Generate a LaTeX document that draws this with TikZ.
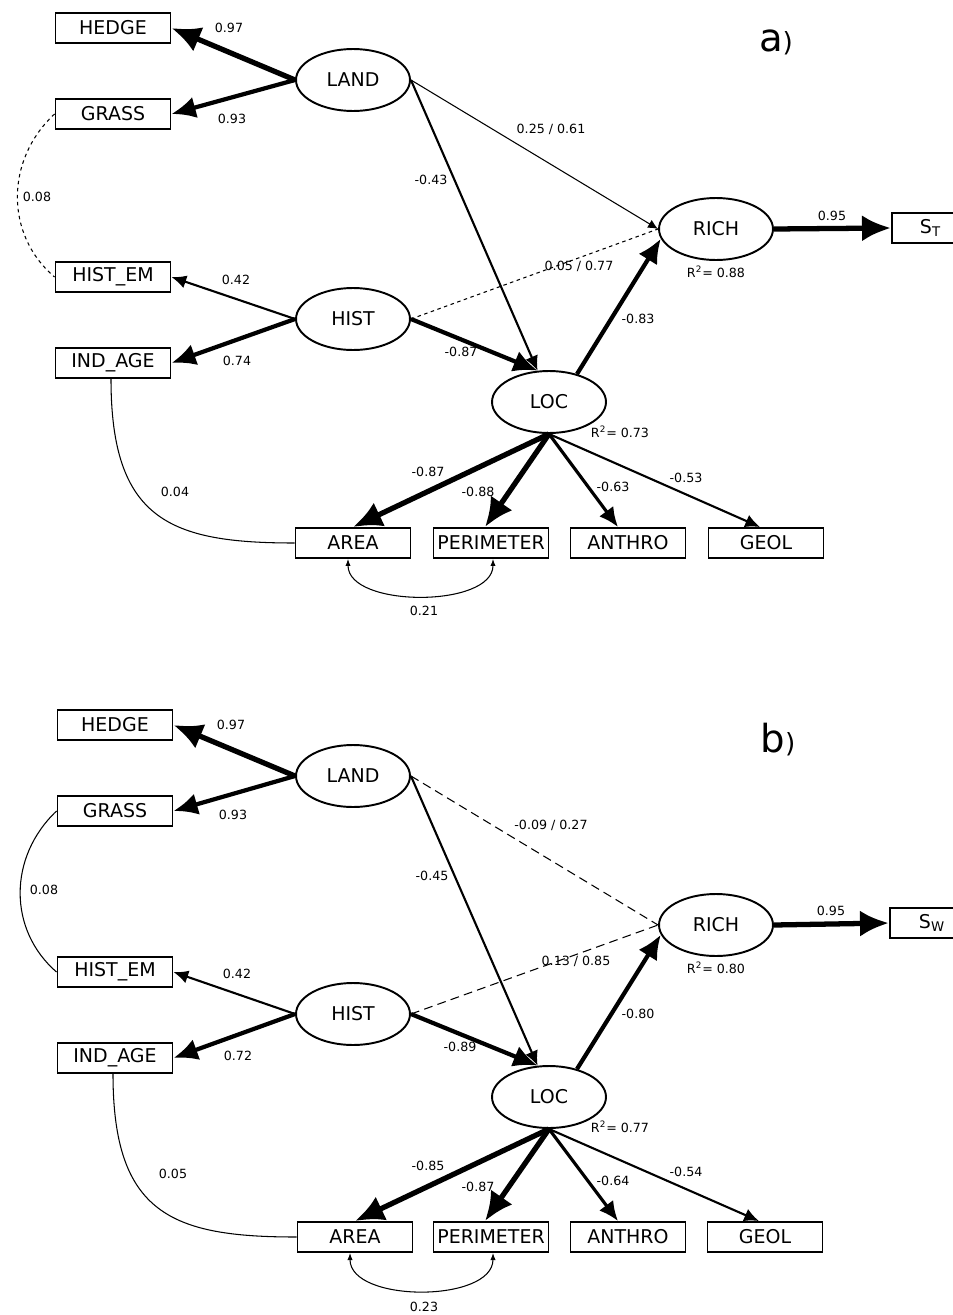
\documentclass[tikz,border=0pt]{standalone}
\usepackage{fontspec}
\setmainfont{DejaVu Sans}
\usetikzlibrary{shapes.geometric,arrows.meta}

\tikzset{
    box/.style={draw, line width=1.1pt, minimum width=2.3cm, minimum height=0.6cm, inner sep=0pt, font=\fontsize{10.8}{12}\selectfont},
    latent/.style={draw, ellipse, line width=1.1pt, minimum width=2.28cm, minimum height=1.24cm, inner sep=0pt, font=\fontsize{10.8}{12}\selectfont},
    coef/.style={inner sep=1pt, font=\fontsize{7.2}{8}\selectfont},
    panel/.style={inner sep=0pt},
    link/.style={-{Latex[scale width=1.2]}},
    w0/.style={line width=0.6pt},
    w1/.style={line width=0.7pt},
    w2/.style={line width=1.2pt},
    w3/.style={line width=1.8pt},
    w4/.style={line width=2.4pt},
    w5/.style={line width=3pt},
    shortdash/.style={dash pattern=on 2pt off 2pt},
    longdash/.style={dash pattern=on 5pt off 3pt},
    covar/.style={w0, {Latex[length=4pt,width=3pt]}-{Latex[length=4pt,width=3pt]}}
}

\begin{document}
\begin{tikzpicture}[x=0.02cm, y=-0.02cm]
    \path[use as bounding box] (0,0) rectangle (953,1315);

    % panel a
    \node[box] (hedgeA) at (113,28) {HEDGE};
    \node[box] (grassA) at (113,114) {GRASS};
    \node[box] (histemA) at (113,277) {HIST\_EM};
    \node[box] (indageA) at (113,363) {IND\_AGE};
    \node[latent] (landA) at (353,80) {LAND};
    \node[latent] (histA) at (353,319) {HIST};
    \node[latent] (richA) at (716,229) {RICH};
    \node[latent] (locA) at (549,402) {LOC};
    \node[box, anchor=west, align=left, text width=1.18cm, inner xsep=0.56cm] (stA) at (891,228) {S\textsubscript{T}};
    \node[box] (areaA) at (353,543) {AREA};
    \node[box] (perimA) at (491,543) {PERIMETER};
    \node[box] (anthroA) at (628,543) {ANTHRO};
    \node[box] (geolA) at (766,543) {GEOL};

    \draw[link, w5] (landA.west) -- (hedgeA.east);
    \draw[link, w4] (landA.west) -- (grassA.east);
    \draw[link, w0] (landA.east) -- (richA.west);
    \draw[link, w2] (landA.east) -- (locA.110);
    \draw[link, w2] (histA.west) -- (histemA.east);
    \draw[link, w4] (histA.west) -- (indageA.east);
    \draw[w0, shortdash] (histA.east) -- (richA.west);
    \draw[link, w4] (histA.east) -- (locA.110);
    \draw[link, w4] (locA.45) -- (richA.190);
    \draw[link, w5] (richA.east) -- (stA.west);
    \draw[link, w5] (locA.south) -- (areaA.north);
    \draw[link, w5] (locA.south) -- ([xshift=-0.12cm]perimA.north);
    \draw[link, w3] (locA.south) -- ([xshift=-0.2cm]anthroA.north);
    \draw[link, w2] (locA.south) -- ([xshift=-0.12cm]geolA.north);
    \draw[w0, shortdash] (grassA.west) .. controls (5,160) and (5,235) .. (histemA.west);
    \draw[w0] ([xshift=-0.04cm]indageA.south) .. controls (111,520) and (170,543) .. (areaA.west);
    \draw[covar] ([xshift=-0.1cm]areaA.south) .. controls (348,608) and (493,608) .. ([xshift=0.04cm]perimA.south);

    \node[coef] (cHedgeA) at (229,28) {0.97};
    \node[coef] (cGrassA) at (232,119) {0.93};
    \node[coef] (cErrA) at (37,197) {0.08};
    \node[coef] (cHistemA) at (236,280) {0.42};
    \node[coef] (cIndageA) at (237,361) {0.74};
    \node[coef] (cLandLocA) at (431,180) {-0.43};
    \node[coef] (cLandRichA) at (551,129) {0.25 / 0.61};
    \node[coef] (cHistRichA) at (579,266) {0.05 / 0.77};
    \node[coef] (cHistLocA) at (461,352) {-0.87};
    \node[coef] (cLocRichA) at (638,319) {-0.83};
    \node[coef] (cStA) at (832,216) {0.95};
    \node[coef] (rRichA) at (716,272) {R\textsuperscript{2}= 0.88};
    \node[coef] (rLocA) at (620,432) {R\textsuperscript{2}= 0.73};
    \node[coef] (cAreaA) at (428,472) {-0.87};
    \node[coef] (cPerimA) at (478,492) {-0.88};
    \node[coef] (cAnthroA) at (613,487) {-0.63};
    \node[coef] (cGeolA) at (686,478) {-0.53};
    \node[coef] (cAgeAreaA) at (175,492) {0.04};
    \node[coef] (cAreaPerimA) at (424,611) {0.21};
    \node[panel] (tagA) at (776,42) {\fontsize{22}{24}\selectfont a\fontsize{15}{16}\selectfont)};

    % panel b
    \node[box] (hedgeB) at (115,725) {HEDGE};
    \node[box] (grassB) at (115,811) {GRASS};
    \node[box] (histemB) at (115,972) {HIST\_EM};
    \node[box] (indageB) at (115,1058) {IND\_AGE};
    \node[latent] (landB) at (353,776) {LAND};
    \node[latent] (histB) at (353,1014) {HIST};
    \node[latent] (richB) at (716,925) {RICH};
    \node[latent] (locB) at (549,1097) {LOC};
    \node[box, anchor=west, align=left, text width=1.14cm, inner xsep=0.58cm] (swB) at (889,923) {S\textsubscript{W}};
    \node[box] (areaB) at (355,1237) {AREA};
    \node[box] (perimB) at (491,1237) {PERIMETER};
    \node[box] (anthroB) at (628,1237) {ANTHRO};
    \node[box] (geolB) at (765,1237) {GEOL};

    \draw[link, w5] (landB.west) -- (hedgeB.east);
    \draw[link, w4] (landB.west) -- (grassB.east);
    \draw[w0, longdash] (landB.east) -- (richB.west);
    \draw[link, w2] (landB.east) -- (locB.110);
    \draw[link, w2] (histB.west) -- (histemB.east);
    \draw[link, w4] (histB.west) -- (indageB.east);
    \draw[w0, longdash] (histB.east) -- (richB.west);
    \draw[link, w4] (histB.east) -- (locB.110);
    \draw[link, w4] (locB.45) -- (richB.190);
    \draw[link, w5] (richB.east) -- (swB.west);
    \draw[link, w5] (locB.south) -- (areaB.north);
    \draw[link, w5] (locB.south) -- ([xshift=-0.12cm]perimB.north);
    \draw[link, w3] (locB.south) -- ([xshift=-0.2cm]anthroB.north);
    \draw[link, w2] (locB.south) -- ([xshift=-0.12cm]geolB.north);
    \draw[w0] (grassB.west) .. controls (8,857) and (8,930) .. (histemB.west);
    \draw[w0] ([xshift=-0.04cm]indageB.south) .. controls (113,1214) and (172,1237) .. (areaB.west);
    \draw[covar] ([xshift=-0.1cm]areaB.south) .. controls (350,1303) and (493,1303) .. ([xshift=0.04cm]perimB.south);

    \node[coef] (cHedgeB) at (231,725) {0.97};
    \node[coef] (cGrassB) at (233,815) {0.93};
    \node[coef] (cErrB) at (44,890) {0.08};
    \node[coef] (cHistemB) at (237,974) {0.42};
    \node[coef] (cIndageB) at (238,1056) {0.72};
    \node[coef] (cLandLocB) at (432,876) {-0.45};
    \node[coef] (cLandRichB) at (551,825) {-0.09 / 0.27};
    \node[coef] (cHistRichB) at (576,961) {0.13 / 0.85};
    \node[coef] (cHistLocB) at (460,1047) {-0.89};
    \node[coef] (cLocRichB) at (638,1014) {-0.80};
    \node[coef] (cSwB) at (831,911) {0.95};
    \node[coef] (rRichB) at (716,968) {R\textsuperscript{2}= 0.80};
    \node[coef] (rLocB) at (620,1127) {R\textsuperscript{2}= 0.77};
    \node[coef] (cAreaB) at (428,1166) {-0.85};
    \node[coef] (cPerimB) at (478,1187) {-0.87};
    \node[coef] (cAnthroB) at (613,1181) {-0.64};
    \node[coef] (cGeolB) at (686,1172) {-0.54};
    \node[coef] (cAgeAreaB) at (173,1174) {0.05};
    \node[coef] (cAreaPerimB) at (424,1307) {0.23};
    \node[panel] (tagB) at (778,740) {\fontsize{22}{24}\selectfont b\fontsize{15}{16}\selectfont)};
\end{tikzpicture}
\end{document}
